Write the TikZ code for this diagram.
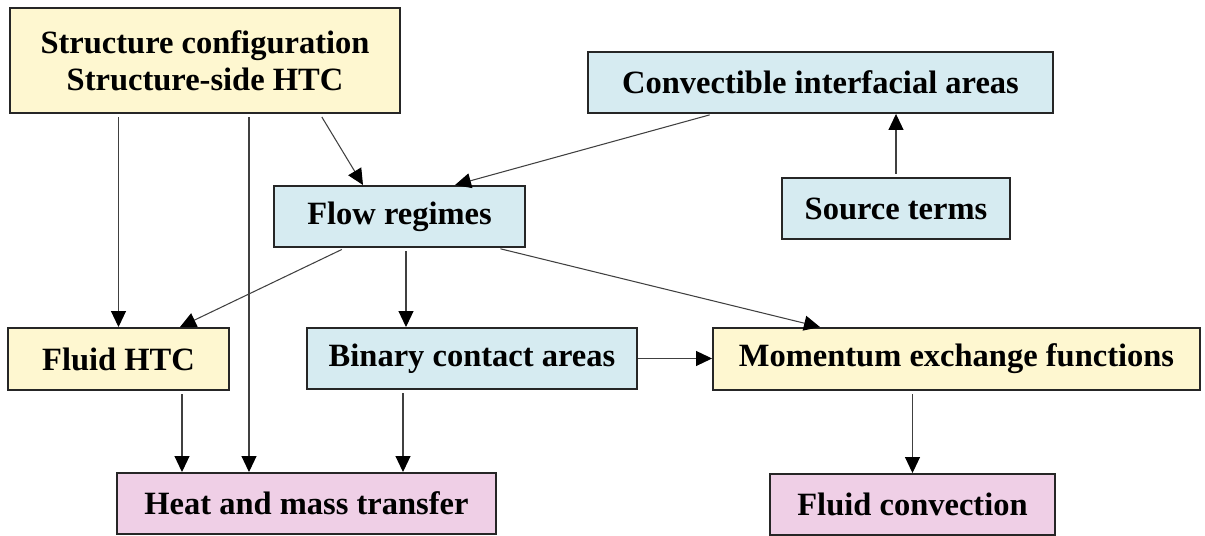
\documentclass[tikz,border=0pt]{standalone}
\usepackage{fontspec}
\setmainfont{Liberation Serif}
\usetikzlibrary{arrows.meta}

\definecolor{amarillo}{RGB}{254,247,208}
\definecolor{celeste}{RGB}{214,235,241}
\definecolor{rosa}{RGB}{239,207,230}

\begin{document}
\begin{tikzpicture}[
        caja/.style={rectangle, draw=black!85, line width=1.1pt, align=center, inner sep=0pt, font=\fontsize{18.5}{21}\selectfont\bfseries},
        amar/.style={caja, fill=amarillo},
        azul/.style={caja, fill=celeste},
        rosado/.style={caja, fill=rosa},
        flecha/.style={-{Triangle[width=0.3cm,length=0.32cm,color=black]}, draw=black!75, line width=0.6pt, shorten <=2pt}
    ]
        \useasboundingbox (0,0) rectangle (24.1,10.72);

        \node[amar, minimum width=7.8cm, minimum height=2.1cm] (struct) at (4.1,9.51) {Structure configuration\\Structure-side HTC};
        \node[azul, minimum width=9.3cm, minimum height=1.22cm] (conv) at (16.41,9.07) {Convectible interfacial areas};
        \node[azul, minimum width=5.02cm, minimum height=1.22cm] (flow) at (7.99,6.39) {Flow regimes};
        \node[azul, minimum width=4.56cm, minimum height=1.22cm] (source) at (17.92,6.55) {Source terms};
        \node[amar, minimum width=4.42cm, minimum height=1.24cm] (fluidhtc) at (2.37,3.54) {Fluid HTC};
        \node[azul, minimum width=6.6cm, minimum height=1.22cm] (binary) at (9.44,3.55) {Binary contact areas};
        \node[amar, minimum width=9.74cm, minimum height=1.24cm] (momentum) at (19.13,3.54) {Momentum exchange functions};
        \node[rosado, minimum width=7.58cm, minimum height=1.22cm] (heat) at (6.13,0.65) {Heat and mass transfer};
        \node[rosado, minimum width=5.7cm, minimum height=1.22cm] (fluidconv) at (18.25,0.63) {Fluid convection};

        \draw[flecha] (struct.south -| fluidhtc.north) -- (fluidhtc.north);
        \draw[flecha] ([xshift=0.88cm]struct.south) -- ([xshift=0.88cm]struct.south |- heat.north);
        \draw[flecha] ([xshift=2.3cm]struct.south) -- ([xshift=-0.73cm]flow.north);
        \draw[flecha] ([xshift=-2.15cm]conv.south) -- ([xshift=1.11cm]flow.north);
        \draw[flecha] (source.north) -- (source.north |- conv.south);
        \draw[flecha] ([xshift=-1.09cm]flow.south) -- ([xshift=1.23cm]fluidhtc.north);
        \draw[flecha] ([xshift=0.13cm]flow.south) -- ([xshift=0.13cm]flow.south |- binary.north);
        \draw[flecha] ([xshift=1.95cm]flow.south) -- ([xshift=-2.73cm]momentum.north);
        \draw[flecha] ([xshift=1.27cm]fluidhtc.south) -- ([xshift=1.27cm]fluidhtc.south |- heat.north);
        \draw[flecha] ([xshift=-1.38cm]binary.south) -- ([xshift=-1.38cm]binary.south |- heat.north);
        \draw[flecha, shorten <=0pt] (binary.east) -- (binary.east -| momentum.west);
        \draw[flecha] (momentum.south -| fluidconv.north) -- (fluidconv.north);
    \end{tikzpicture}
\end{document}
